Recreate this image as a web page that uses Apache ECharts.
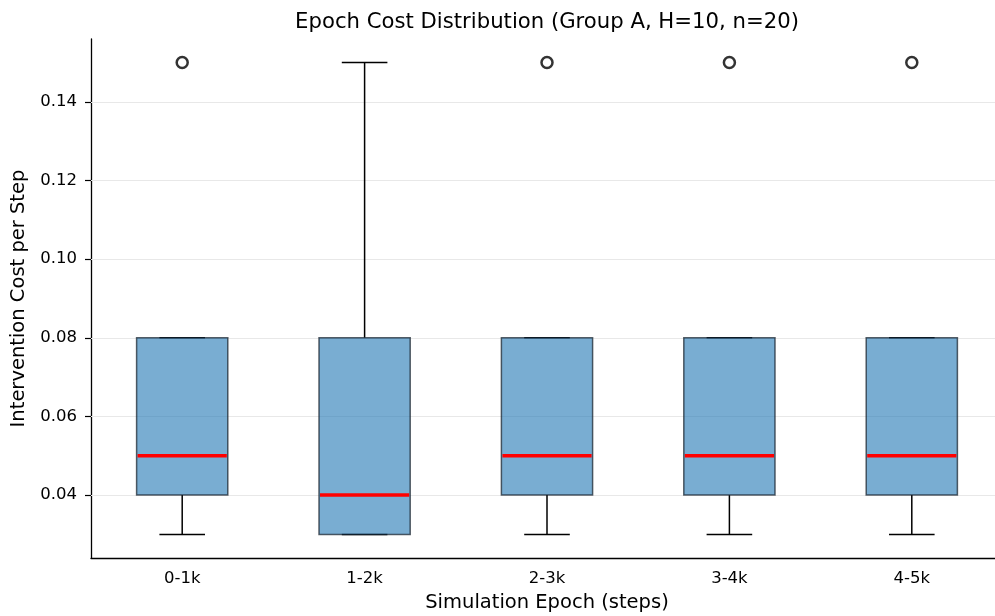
<!DOCTYPE html>
<html><head><meta charset="utf-8">
<script src="https://cdn.jsdelivr.net/npm/echarts@6/dist/echarts.min.js"></script>
<style>html,body{margin:0;padding:0;background:#fff}#c{width:995px;height:616px}</style>
</head><body><div id="c"></div>
<script>
const categories = ['0-1k','1-2k','2-3k','3-4k','4-5k'];
const whiskerLow = [0.03,0.03,0.03,0.03,0.03];
const q1 = [0.04,0.03,0.04,0.04,0.04];
const median = [0.05,0.04,0.05,0.05,0.05];
const q3 = [0.08,0.08,0.08,0.08,0.08];
const whiskerHigh = [0.08,0.15,0.08,0.08,0.08];
const outliers = [[0,0.15],[2,0.15],[3,0.15],[4,0.15]];
const yTicks = [0.04,0.06,0.08,0.10,0.12,0.14];

const boxData = categories.map((c,i)=>[i, whiskerLow[i], q1[i], median[i], q3[i], whiskerHigh[i]]);
const font = 'DejaVu Sans';
const chart = echarts.init(document.getElementById('c'));
chart.setOption({
  animation:false,
  title:{text:'Epoch Cost Distribution (Group A, H=10, n=20)',left:542,top:7,textAlign:'center',
    textStyle:{fontFamily:font,fontSize:21.2,fontWeight:'normal',color:'#000'}},
  grid:{left:91,width:912,top:39,height:519,outerBoundsMode:'none',containLabel:false},
  xAxis:{type:'category',data:categories,boundaryGap:true,
    name:'Simulation Epoch (steps)',nameLocation:'middle',nameGap:35,
    nameTextStyle:{fontFamily:font,fontSize:19.5,color:'#000'},
    axisLine:{lineStyle:{color:'#000',width:1.3}},
    axisTick:{alignWithLabel:true,length:5,lineStyle:{color:'#000',width:1.2}},
    axisLabel:{fontFamily:font,fontSize:16.5,color:'#000',margin:12},
    splitLine:{show:false}},
  yAxis:{type:'value',min:0.024,max:0.156,
    name:'Intervention Cost per Step',nameLocation:'middle',nameGap:56,
    nameTextStyle:{fontFamily:font,fontSize:19.5,color:'#000'},
    axisLine:{show:true,lineStyle:{color:'#000',width:1.3}},
    axisTick:{show:true,length:6,customValues:yTicks,lineStyle:{color:'#000',width:1.2}},
    axisLabel:{fontFamily:font,fontSize:16.5,color:'#000',margin:14,customValues:yTicks,
      formatter:v=>v.toFixed(2)},
    splitLine:{show:false}},
  series:[
    {type:'line',data:[],silent:true,z:1,
      markLine:{silent:true,symbol:'none',label:{show:false},z:1,
        lineStyle:{color:'#e8e8e8',width:1.2,type:'solid'},
        data:yTicks.map(v=>({yAxis:v}))}},
    {type:'custom',data:boxData,z:5,
      renderItem:function(params,api){
        const i=api.value(0);
        const w=api.size([1,0])[0];
        const bw=w*0.5, cw=w*0.25;
        const pLow=api.coord([i,api.value(1)]);
        const pQ1=api.coord([i,api.value(2)]);
        const pMed=api.coord([i,api.value(3)]);
        const pQ3=api.coord([i,api.value(4)]);
        const pHigh=api.coord([i,api.value(5)]);
        const x=pQ1[0];
        const blk={stroke:'#000',lineWidth:1.5};
        return {type:'group',children:[
          {type:'line',shape:{x1:x,y1:pQ1[1],x2:x,y2:pLow[1]},style:blk},
          {type:'line',shape:{x1:x,y1:pQ3[1],x2:x,y2:pHigh[1]},style:blk},
          {type:'line',shape:{x1:x-cw/2,y1:pLow[1],x2:x+cw/2,y2:pLow[1]},style:blk},
          {type:'line',shape:{x1:x-cw/2,y1:pHigh[1],x2:x+cw/2,y2:pHigh[1]},style:blk},
          {type:'rect',shape:{x:x-bw/2,y:pQ3[1],width:bw,height:pQ1[1]-pQ3[1]},
            style:{fill:'rgba(31,119,180,0.6)',stroke:'rgba(20,30,40,0.7)',lineWidth:1.5}},
          {type:'line',shape:{x1:x-bw/2+1,y1:pMed[1],x2:x+bw/2-1,y2:pMed[1]},style:{stroke:'#ff0000',lineWidth:3.5}}
        ]};
      }},
    {type:'scatter',data:outliers,symbol:'circle',symbolSize:11,z:6,
      itemStyle:{color:'rgba(0,0,0,0)',borderColor:'#000',borderWidth:2.5}}
  ]
});
</script></body></html>
